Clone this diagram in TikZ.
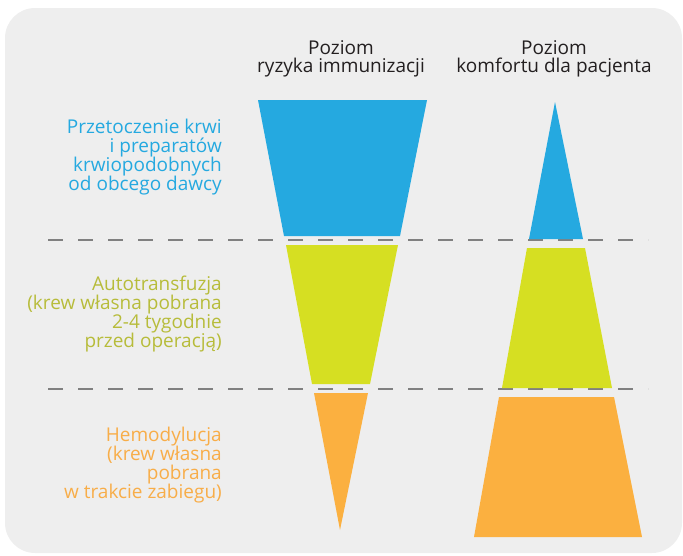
\documentclass[tikz,border=0pt]{standalone}
\usepackage{fontspec}
\setmainfont{Open Sans}
\usepackage{tikz}
\usetikzlibrary{positioning,calc}
\definecolor{fond}{RGB}{238,238,238}
\definecolor{bleu}{RGB}{37,169,224}
\definecolor{jaune}{RGB}{214,223,34}
\definecolor{orange}{RGB}{251,176,64}
\definecolor{texteJaune}{RGB}{183,188,58}
\definecolor{texteOrange}{RGB}{248,173,72}
\definecolor{tirets}{RGB}{128,128,128}
\definecolor{titre}{RGB}{35,31,32}

\begin{document}
\begin{tikzpicture}[x=1pt,y=-1pt,
  titreNiv/.style={align=center,text=titre,font=\fontsize{19}{18}\selectfont,inner sep=0},
  methode/.style={align=right,anchor=east,font=\fontsize{19}{19}\selectfont,inner sep=0},
  separation/.style={tirets,line width=2pt,dash pattern=on 15pt off 15pt}]
\useasboundingbox(0,0)rectangle(683,555);
\fill[fond,rounded corners=30pt](5,8)rectangle(682,553);
% titres des colonnes
\node[titreNiv](T1)at(341,59){Poziom\\ryzyka immunizacji};
\node[titreNiv](T2)at(554,59){Poziom\\komfortu dla pacjenta};
% lignes de separation
\coordinate(S1g)at(48,240);
\coordinate(S1d)at(648,240);
\coordinate(S2g)at(48,389);
\coordinate(S2d)at(648,389);
\draw[separation](S1g)--(S1d);
\draw[separation](S2g)--(S2d);
% colonne risque
\fill[bleu](258,100)--(427,100)--(400,236)--(284,236)--cycle;
\fill[jaune](286,245)--(398,245)--(370,384)--(312,384)--cycle;
\fill[orange](314,393)--(368,393)--(340,530)--cycle;
% colonne confort
\fill[bleu](555,102)--(583,239)--(529,239)--cycle;
\fill[jaune](527,248)--(585,248)--(612,388)--(502,388)--cycle;
\fill[orange](499,397)--(614,397)--(642,537)--(474,537)--cycle;
% methodes
\node[methode,text=bleu](M1)at(222,157){Przetoczenie krwi\\i preparatów\\krwiopodobnych\\od obcego dawcy};
\node[methode,text=texteJaune](M2)at(222,314){Autotransfuzja\\(krew własna pobrana\\2-4 tygodnie\\przed operacją)};
\node[methode,text=texteOrange](M3)at(222,465){Hemodylucja\\(krew własna\\pobrana\\w trakcie zabiegu)};
\end{tikzpicture}
\end{document}
